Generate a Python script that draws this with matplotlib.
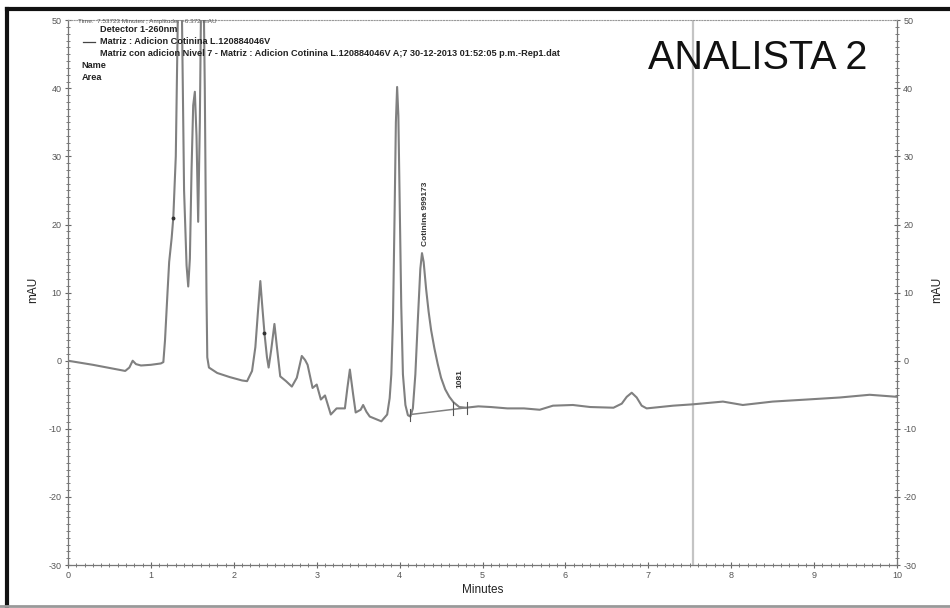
import matplotlib
matplotlib.use("Agg")
import matplotlib.pyplot as plt
from matplotlib.lines import Line2D
from matplotlib.ticker import MultipleLocator

# chromatogram trace (minutes, mAU)
minutes = [0.00, 0.30, 0.69, 0.74, 0.78, 0.82, 0.88, 1.00, 1.12, 1.15,
           1.17, 1.20, 1.22, 1.25, 1.27, 1.30, 1.33, 1.35, 1.37, 1.40,
           1.43, 1.45, 1.47, 1.49, 1.51, 1.53, 1.55, 1.57, 1.59, 1.62,
           1.65, 1.67, 1.68, 1.70, 1.80, 1.95, 2.10, 2.16, 2.22, 2.26,
           2.29, 2.32, 2.34, 2.37, 2.40, 2.42, 2.45, 2.49, 2.52, 2.56,
           2.63, 2.70, 2.76, 2.82, 2.86, 2.89, 2.95, 3.00, 3.05, 3.10,
           3.17, 3.24, 3.34, 3.37, 3.40, 3.44, 3.47, 3.53, 3.56, 3.60,
           3.64, 3.78, 3.85, 3.88, 3.90, 3.92, 3.94, 3.955, 3.97, 3.985,
           4.00, 4.02, 4.04, 4.07, 4.10, 4.13, 4.16, 4.19, 4.22, 4.25,
           4.27, 4.29, 4.32, 4.35, 4.38, 4.42, 4.46, 4.50, 4.55, 4.60,
           4.65, 4.72, 4.80, 4.95, 5.10, 5.30, 5.50, 5.69, 5.85, 6.09,
           6.30, 6.58, 6.68, 6.74, 6.80, 6.86, 6.92, 6.98, 7.30, 7.54,
           7.90, 8.14, 8.50, 8.91, 9.31, 9.67, 10.00]
mau = [0.0, -0.6, -1.5, -1.0, 0.0, -0.5, -0.7, -0.6, -0.4, -0.2,
       3.0, 10.0, 14.5, 18.0, 21.0, 30.0, 55.0, 70.0, 55.0, 25.0,
       14.0, 10.9, 15.0, 28.0, 37.5, 39.5, 33.0, 20.4, 35.0, 70.0,
       40.0, 10.0, 0.5, -1.0, -1.8, -2.4, -2.9, -3.0, -1.5, 2.0,
       7.0, 11.7, 8.5, 4.0, 0.5, -1.0, 1.5, 5.4, 2.0, -2.3,
       -3.0, -3.8, -2.5, 0.7, 0.1, -0.6, -4.0, -3.5, -5.7, -5.1,
       -7.9, -7.0, -7.0, -4.0, -1.3, -5.0, -7.6, -7.2, -6.5, -7.5,
       -8.2, -8.9, -7.9, -5.5, -2.0, 6.0, 22.0, 35.0, 40.2, 36.0,
       24.0, 8.0, -2.0, -6.5, -8.0, -8.2, -7.0, -2.0, 6.0, 13.5,
       15.8, 14.5, 10.5, 7.2, 4.5, 1.8, -0.5, -2.5, -4.2, -5.3,
       -6.1, -6.8, -6.9, -6.7, -6.8, -7.0, -7.0, -7.2, -6.6, -6.5,
       -6.8, -6.9, -6.3, -5.3, -4.7, -5.4, -6.6, -7.0, -6.6, -6.4,
       -6.0, -6.5, -6.0, -5.7, -5.4, -5.0, -5.3]

# integration baseline under the cotinine peak, and peak markers
base_x = [4.13, 4.81]
base_y = [-7.9, -6.9]
marker_x = [4.13, 4.65, 4.81]
marker_y = [-8.0, -7.0, -6.9]
cursor_time = 7.54

header = [
    ("Detector 1-260nm", 0.105, 0.951),
    ("Matriz : Adicion Cotinina L.120884046V", 0.105, 0.931),
    ("Matriz con adicion Nivel 7 - Matriz : Adicion Cotinina L.120884046V A;7 30-12-2013 01:52:05 p.m.-Rep1.dat",
     0.105, 0.912),
    ("Name", 0.086, 0.892),
    ("Area", 0.086, 0.873),
]

plt.rcParams["font.family"] = ["Liberation Sans", "DejaVu Sans"]
plt.rcParams["axes.unicode_minus"] = False

fig = plt.figure(figsize=(9.5, 6.08), dpi=100)
ax = fig.add_axes([0.0716, 0.0707, 0.8726, 0.896])

ax.axvline(cursor_time, color="#c4c4c4", lw=1.6, zorder=1)
ax.plot(minutes, mau, color="#808080", lw=1.5, zorder=3)
ax.plot(base_x, base_y, color="#808080", lw=1.1, zorder=3)
for mx, my in zip(marker_x, marker_y):
    ax.plot([mx, mx], [my - 0.9, my + 0.9], color="#555", lw=0.8, zorder=4)
ax.plot([1.27, 2.37], [21.0, 4.0], "o", color="#333", ms=1.8, zorder=4)

ax.text(4.31, 16.8, "Cotinina 999173", rotation=90, fontsize=6, ha="center",
        va="bottom", color="#333", fontweight="bold")
ax.text(4.73, -4.0, "1081", rotation=90, fontsize=6, ha="center",
        va="bottom", color="#333", fontweight="bold")

ax.set_xlim(0, 10)
ax.set_ylim(-30, 50)
ax.xaxis.set_major_locator(MultipleLocator(1))
ax.xaxis.set_minor_locator(MultipleLocator(0.1))
ax.yaxis.set_major_locator(MultipleLocator(10))
ax.yaxis.set_minor_locator(MultipleLocator(1))
ax.tick_params(which="both", direction="inout", colors="#666", labelsize=6.5,
               labelcolor="#555", right=True, labelright=True)
ax.tick_params(which="major", length=5, width=0.8, pad=2)
ax.tick_params(which="minor", length=3, width=0.6)
for side in ("left", "right", "bottom"):
    ax.spines[side].set_color("#777")
    ax.spines[side].set_linewidth(0.9)
ax.spines["top"].set_color("#999")
ax.spines["top"].set_linestyle((0, (1, 1.5)))
ax.spines["top"].set_linewidth(0.8)

ax.set_xlabel("Minutes", fontsize=8.5, color="#222", labelpad=3)
fig.text(0.035, 0.523, "mAU", rotation=90, fontsize=8.5, color="#222",
         ha="center", va="center")
fig.text(0.986, 0.523, "mAU", rotation=90, fontsize=8.5, color="#222",
         ha="center", va="center")

ax.text(0.832, 0.93, "ANALISTA 2", transform=ax.transAxes, fontsize=28.5,
        ha="center", va="center", color="#111")

fig.text(0.082, 0.965, "Time:  7.53723 Minutes ; Amplitude:  -6.372 mAU",
         fontsize=4.6, color="#555", va="center")
for txt, x, y in header:
    fig.text(x, y, txt, fontsize=6.6, color="#222", va="center",
             fontweight="bold")
fig.add_artist(Line2D([0.087, 0.100], [0.931, 0.931], color="#444", lw=0.9))

# outer frame of the screenshot
fig.add_artist(Line2D([0.007, 0.007], [0.0, 0.985], color="#111", lw=3))
fig.add_artist(Line2D([0.007, 1.0], [0.985, 0.985], color="#111", lw=3))
fig.add_artist(Line2D([0.0, 1.0], [0.004, 0.004], color="#999", lw=2))

fig.savefig("out.png", dpi=100)
